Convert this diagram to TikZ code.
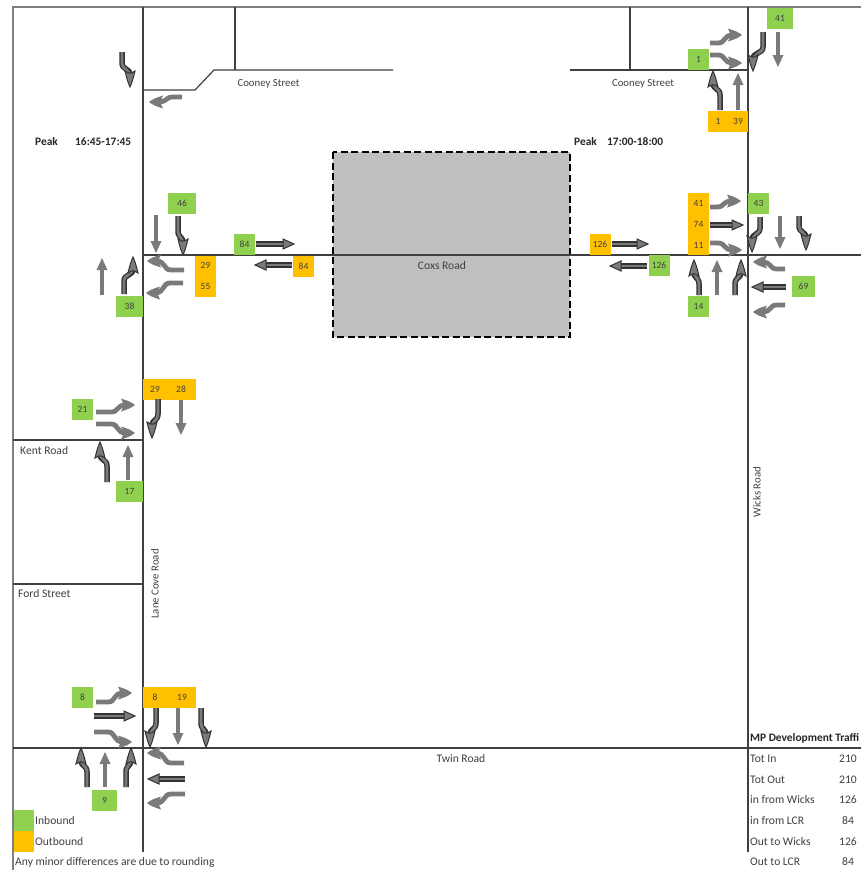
\documentclass[tikz,border=0pt]{standalone}
\usepackage{fontspec}
\setmainfont{Carlito}
\definecolor{inboundgreen}{HTML}{8FD14F}
\definecolor{outboundorange}{HTML}{FFC000}
\definecolor{lanegray}{HTML}{7A7A7A}
\tikzset{
	road/.style={draw=black!75,line width=1.2pt},
	frameline/.style={draw=black!50,line width=1.2pt},
	inbox/.style={fill=inboundgreen,minimum width=21pt,minimum height=21pt,inner sep=0pt,font=\fontsize{9.5}{10}\selectfont,text=black!75},
	outbox/.style={fill=outboundorange,minimum width=21pt,minimum height=21pt,inner sep=0pt,font=\fontsize{9.5}{10}\selectfont,text=black!75},
	count/.style={inner sep=0pt,font=\fontsize{9.5}{10}\selectfont,text=black!75},
	label/.style={inner sep=0pt,font=\fontsize{10.8}{12}\selectfont,text=black!75},
	widelabel/.style={inner sep=0pt,font=\fontsize{11.6}{13}\selectfont,text=black!75},
	boldlabel/.style={inner sep=0pt,font=\fontsize{11.4}{13}\selectfont\bfseries,text=black!85},
	pics/softthru/.style={code={
		\draw[lanegray,line width=4pt] (0,0) -- (#1-10,0);
		\fill[lanegray] (#1,0) -- (#1-12,5.5) -- (#1-12,-5.5) -- cycle;
	}},
	pics/hardthru/.style={code={
		\draw[black!80,line width=5.5pt] (0,0) -- (#1-9,0);
		\draw[lanegray,line width=2.8pt] (0,0) -- (#1-8,0);
		\filldraw[fill=lanegray,draw=black!80,line width=1pt] (#1,0) -- (#1-11,5) -- (#1-11,-5) -- cycle;
	}},
	pics/softveer/.style 2 args={code={
		\draw[lanegray,line width=4.8pt] (0,0) -- (#1-24,0) .. controls (#1-16,0) and (#1-19,#2) .. (#1-9,#2);
		\fill[lanegray] (#1,#2) .. controls (#1-5,#2+3.5) .. (#1-14,#2+6.5) .. controls (#1-11,#2) .. (#1-14,#2-6.5) .. controls (#1-5,#2-3.5) .. cycle;
	}},
	pics/hardveer/.style 2 args={code={
		\draw[black!80,line width=5.5pt] (0,0) -- (#1-24,0) .. controls (#1-17,0) and (#1-19,#2) .. (#1-12,#2);
		\draw[lanegray,line width=2.8pt] (0,0) -- (#1-24,0) .. controls (#1-17,0) and (#1-19,#2) .. (#1-9,#2);
		\filldraw[fill=lanegray,draw=black!80,line width=1pt] (#1,#2) .. controls (#1-6,#2+2.5) .. (#1-16,#2+5) .. controls (#1-13,#2) .. (#1-16,#2-5) .. controls (#1-6,#2-2.5) .. cycle;
	}}
}
\begin{document}
\begin{tikzpicture}[x=1pt,y=1pt]
	\useasboundingbox (0,0) rectangle (861,-870);
	\fill[white] (0,0) rectangle (861,-870);

	\draw[fill=black!25,dash pattern=on 7pt off 3.5pt,line width=1.6pt] (333,-152) rectangle (570,-337);
	\draw[frameline] (13,-870) -- (13,-7) -- (861,-7);
	\draw[road] (143,-7) -- (143,-852);
	\draw[road] (748,-7) -- (748,-852);
	\draw[road] (143,-255) -- (861,-255);
	\draw[road] (13,-748) -- (861,-748);
	\draw[road] (13,-440) -- (143,-440);
	\draw[road] (13,-584) -- (143,-584);
	\draw[road] (143,-90) -- (195,-90) -- (214,-70) -- (393,-70);
	\draw[road] (235,-7) -- (235,-70);
	\draw[road] (570,-70) -- (748,-70);
	\draw[road] (630,-7) -- (630,-70);

	\node[label] (cooneyw) at (268.5,-84) {Cooney Street};
	\node[label] (cooneye) at (643,-84) {Cooney Street};
	\node[widelabel] (coxs) at (442,-266) {Coxs Road};
	\node[widelabel] (twin) at (461,-759) {Twin Road};
	\node[label,rotate=90] (wicks) at (757,-492) {Wicks Road};
	\node[label,rotate=90] (lanecove) at (155,-584) {Lane Cove Road};
	\node[widelabel,anchor=west] (kent) at (20,-451) {Kent Road};
	\node[widelabel,anchor=west] (ford) at (18,-594) {Ford Street};
	\node[boldlabel,anchor=west] (peakw) at (35,-142) {Peak};
	\node[boldlabel,anchor=west] (timew) at (75,-142) {16:45-17:45};
	\node[boldlabel,anchor=west] (peake) at (574,-142) {Peak};
	\node[boldlabel,anchor=west] (timee) at (607,-142) {17:00-18:00};

	\node[inbox,minimum width=28pt] (in46) at (182,-203.5) {46};
	\node[inbox] (in84) at (244.5,-244.5) {84};
	\node[inbox,minimum width=27pt] (in38) at (129.5,-306.5) {38};
	\node[outbox,minimum height=41pt] (out2955) at (205.5,-276.5) {};
	\node[count] (c29) at (205.5,-265.5) {29};
	\node[count] (c55) at (205.5,-286.5) {55};
	\node[outbox] (out84) at (303.5,-266) {84};

	\node[inbox,minimum width=26pt] (in41) at (780,-18.5) {41};
	\node[inbox] (in1) at (698.5,-59) {1};
	\node[outbox,minimum width=40pt] (out139) at (728,-121.5) {};
	\node[count] (c1) at (718,-121.5) {1};
	\node[count] (c39) at (738,-121.5) {39};
	\node[outbox,minimum height=62pt] (out417411) at (698.5,-224) {};
	\node[count] (c41) at (698.5,-203) {41};
	\node[count] (c74) at (698.5,-224) {74};
	\node[count] (c11) at (698.5,-245) {11};
	\node[inbox] (in43) at (758.5,-203.5) {43};
	\node[outbox] (out126) at (600,-244.5) {126};
	\node[inbox] (in126) at (659,-265.5) {126};
	\node[inbox] (in14) at (698.5,-306.5) {14};
	\node[inbox,minimum width=23pt] (in69) at (803.5,-286) {69};

	\node[inbox] (in21) at (82.5,-409) {21};
	\node[inbox,minimum width=27pt] (in17) at (129.5,-491.5) {17};
	\node[outbox,minimum width=53pt] (out2928) at (169.5,-389) {};
	\node[count] (c29b) at (155,-389) {29};
	\node[count] (c28) at (181,-389) {28};

	\node[inbox] (in8) at (82.5,-697.5) {8};
	\node[outbox,minimum width=53pt] (out819) at (169.5,-697.5) {};
	\node[count] (c8) at (155,-697.5) {8};
	\node[count] (c19) at (182,-697.5) {19};
	\node[inbox,minimum width=25pt] (in9) at (104.5,-800) {9};

	\pic[rotate=-90] at (122,-52) {hardveer={35}{8}};
	\pic[rotate=180] at (182,-97) {softveer={33}{5}};
	\pic[rotate=-90] at (156,-215) {softthru=38};
	\pic[rotate=-90] at (178,-216) {hardveer={39}{5}};
	\pic[rotate=180] at (184,-270) {softveer={37}{-9}};
	\pic[rotate=180] at (183,-283) {softveer={37}{10}};
	\pic[rotate=90] at (102,-295) {softthru=37};
	\pic[rotate=90] at (124,-294) {hardveer={37}{-9}};
	\pic at (256,-244) {hardthru=38};
	\pic[rotate=180] at (292,-265) {hardthru=37};

	\pic at (710,-43) {softveer={32}{8}};
	\pic at (710,-55) {softveer={32}{-8}};
	\pic[rotate=-90] at (763,-32) {hardveer={39}{-10}};
	\pic[rotate=-90] at (778,-32) {softthru=35};
	\pic[rotate=90] at (720,-110) {hardveer={39}{7}};
	\pic[rotate=90] at (738,-110) {softthru=37};
	\pic at (710,-207) {softveer={31}{6}};
	\pic at (710,-225) {hardthru=33};
	\pic at (710,-243) {softveer={32}{-7}};
	\pic[rotate=-90] at (760,-217) {hardveer={35}{-8}};
	\pic[rotate=-90] at (780,-216) {softthru=33};
	\pic[rotate=-90] at (799,-216) {hardveer={34}{7}};
	\pic at (612,-244) {hardthru=36};
	\pic[rotate=180] at (647,-266) {hardthru=37};
	\pic[rotate=90] at (699,-295) {hardveer={35}{5}};
	\pic[rotate=90] at (717,-295) {softthru=35};
	\pic[rotate=90] at (735,-295) {hardveer={35}{-6}};
	\pic[rotate=180] at (785,-269) {softveer={32}{-7}};
	\pic[rotate=180] at (786,-287) {hardthru=34};
	\pic[rotate=180] at (785,-305) {softveer={32}{7}};

	\pic at (96,-412) {softveer={39}{7}};
	\pic at (96,-424) {softveer={39}{-9}};
	\pic[rotate=-90] at (158,-399) {hardveer={39}{-6}};
	\pic[rotate=-90] at (181,-400) {softthru=35};
	\pic[rotate=90] at (107,-482) {hardveer={40}{7}};
	\pic[rotate=90] at (128,-480) {softthru=35};

	\pic at (96,-702) {softveer={36}{9}};
	\pic at (94,-716) {hardthru=41};
	\pic at (94,-732) {softveer={38}{-10}};
	\pic[rotate=-90] at (156,-708) {hardveer={39}{-6}};
	\pic[rotate=-90] at (178,-708) {softthru=37};
	\pic[rotate=-90] at (201,-708) {hardveer={39}{5}};
	\pic[rotate=90] at (87,-787) {hardveer={39}{6}};
	\pic[rotate=90] at (105,-787) {softthru=35};
	\pic[rotate=90] at (126,-787) {hardveer={39}{-5}};
	\pic[rotate=180] at (184,-763) {softveer={37}{-10}};
	\pic[rotate=180] at (185,-779) {hardthru=37};
	\pic[rotate=180] at (185,-794) {softveer={38}{9}};

	\node[inbox,minimum width=20pt] (keyin) at (23.5,-820.5) {};
	\node[outbox,minimum width=20pt] (keyout) at (23.5,-841.5) {};
	\node[widelabel,anchor=west] (keyintext) at (35,-821) {Inbound};
	\node[widelabel,anchor=west] (keyouttext) at (35,-842) {Outbound};
	\node[widelabel,anchor=west] (note) at (15,-862) {Any minor differences are due to rounding};

	\node[boldlabel,anchor=west] (tablehead) at (750,-738) {MP Development Traffi};
	\node[widelabel,anchor=west] (totin) at (750,-759) {Tot In};
	\node[widelabel,anchor=west] (totout) at (750,-780) {Tot Out};
	\node[widelabel,anchor=west] (fromwicks) at (750,-800) {in from Wicks};
	\node[widelabel,anchor=west] (fromlcr) at (750,-821) {in from LCR};
	\node[widelabel,anchor=west] (towicks) at (750,-842) {Out to Wicks};
	\node[widelabel,anchor=west] (tolcr) at (750,-862) {Out to LCR};
	\node[widelabel] (v1) at (848,-759) {210};
	\node[widelabel] (v2) at (848,-780) {210};
	\node[widelabel] (v3) at (848,-800) {126};
	\node[widelabel] (v4) at (848,-821) {84};
	\node[widelabel] (v5) at (848,-842) {126};
	\node[widelabel] (v6) at (848,-862) {84};
\end{tikzpicture}
\end{document}
